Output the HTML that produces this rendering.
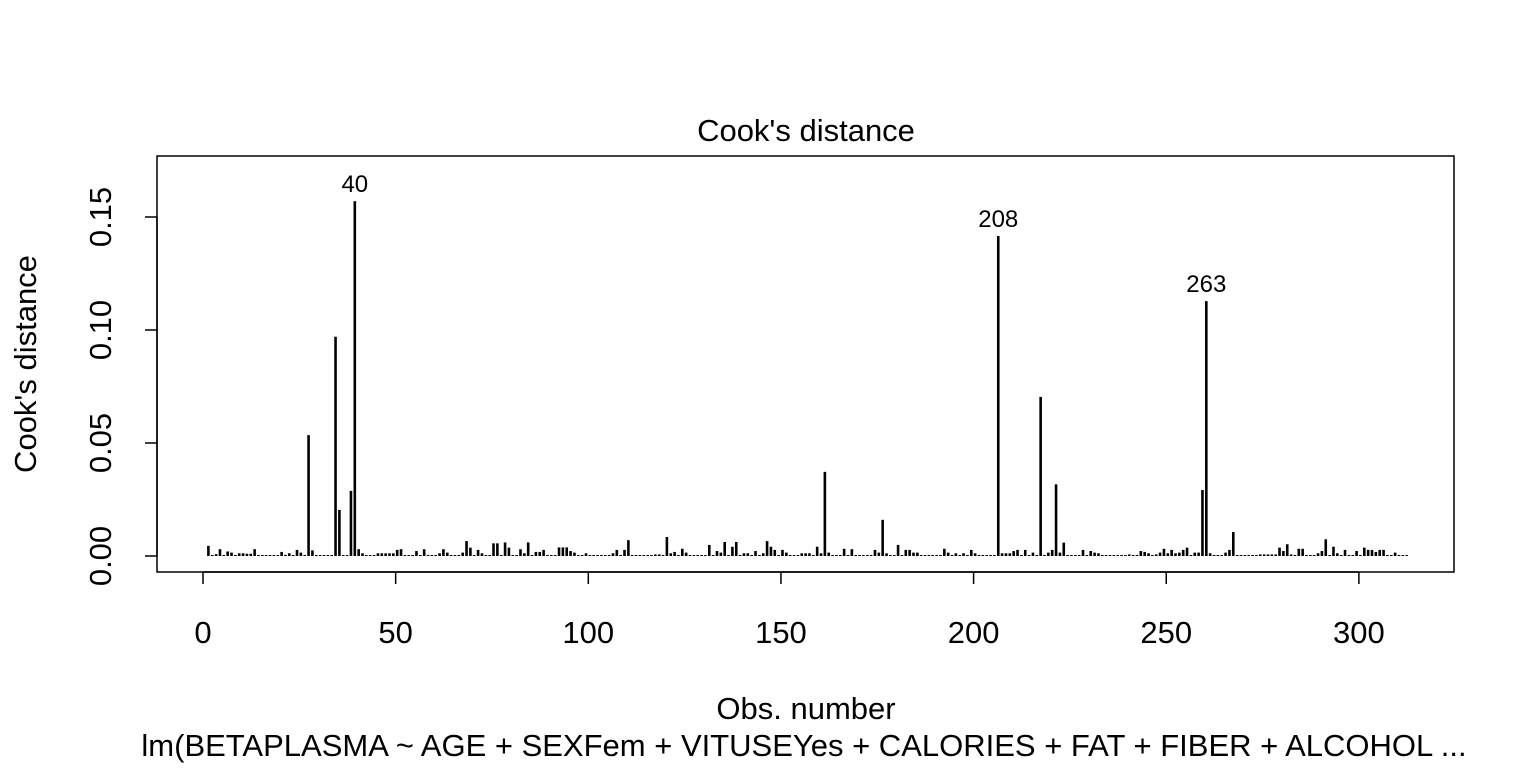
<!DOCTYPE html>
<html><head><meta charset="utf-8">
<style>
html,body{margin:0;padding:0;background:#fff;}
svg{display:block;font-family:"Liberation Sans",Arial,sans-serif;}
</style></head>
<body>
<svg id="chart" width="1536" height="768" viewBox="0 0 1536 768" xmlns="http://www.w3.org/2000/svg">
<rect x="0" y="0" width="1536" height="768" fill="#fff"/>
<text x="806" y="141" font-size="31" text-anchor="middle">Cook's distance</text>
<rect x="157" y="156" width="1297" height="416" fill="none" stroke="#000" stroke-width="1.5"/>
<g id="bars"></g>
<g id="labels"></g>
<g id="xaxis"></g>
<g id="yaxis"></g>
<text transform="translate(36,364) rotate(-90)" font-size="31" text-anchor="middle">Cook's distance</text>
<text x="806" y="719" font-size="31" text-anchor="middle">Obs. number</text>
<text x="804" y="756" font-size="31" text-anchor="middle">lm(BETAPLASMA ~ AGE + SEXFem + VITUSEYes + CALORIES + FAT + FIBER + ALCOHOL ...</text>
</svg>
<script>
const cookValues = [
.0045,.0003,.0008,.003,.0003,.002,.0015,.0003,.0012,.0012,
.001,.001,.003,.0002,.0002,.0002,.0002,.0002,.0002,.0018,
.0005,.0012,.0003,.0027,.0015,.0003,.0535,.0025,.0002,.0002,
.0002,.0002,.0002,.097,.0204,.0002,.0002,.0288,.157,.003,
.0012,.0003,.0003,.0003,.0012,.0012,.0012,.0012,.0012,.0027,
.003,.0003,.0003,.0003,.0022,.0003,.003,.0003,.0003,.0003,
.0012,.003,.0015,.0003,.0003,.0003,.0015,.0066,.0037,.0003,
.0027,.0012,.0003,.0003,.0056,.0056,.0003,.006,.0037,.0003,
.0003,.003,.0012,.006,.0003,.0018,.0018,.0027,.0003,.0003,
.0003,.0038,.0038,.0038,.0022,.0015,.0003,.0003,.0012,.0003,
.0003,.0003,.0003,.0003,.0003,.0012,.0027,.0003,.0027,.007,
.0003,.0003,.0003,.0003,.0003,.0003,.0007,.0007,.0003,.0084,
.0012,.0018,.0003,.0032,.0015,.0003,.0003,.0003,.0003,.0003,
.0049,.0003,.0022,.0015,.0062,.0003,.0041,.0062,.0003,.0012,
.0012,.0003,.0022,.0003,.0012,.0066,.0041,.0027,.0003,.0027,
.0015,.0003,.0003,.0003,.0012,.0012,.0012,.0003,.0041,.0012,
.0372,.0015,.0003,.0003,.0003,.0032,.0003,.003,.0003,.0003,
.0003,.0003,.0003,.0027,.0015,.016,.0012,.0003,.0003,.0049,
.0003,.0027,.0027,.0015,.0015,.0003,.0003,.0003,.0003,.0003,
.0003,.0032,.0015,.0003,.0012,.0003,.0012,.0003,.0027,.0012,
.0003,.0003,.0003,.0003,.0003,.1416,.0012,.0012,.0012,.0022,
.0027,.0003,.0027,.0003,.0015,.0003,.0704,.0003,.0015,.0027,
.0317,.0015,.0059,.0003,.0003,.0003,.0003,.0027,.0003,.0022,
.0015,.0012,.0003,.0003,.0003,.0003,.0003,.0003,.0003,.0007,
.0003,.0003,.0022,.0018,.0012,.0003,.0007,.0015,.0032,.0012,
.0027,.0012,.0015,.0027,.0037,.0003,.0015,.0015,.0292,.1128,
.0012,.0003,.0003,.0003,.0015,.0027,.0106,.0003,.0003,.0003,
.0003,.0003,.0003,.0007,.0007,.0007,.0007,.0007,.0037,.0022,
.0052,.0007,.0003,.0032,.0032,.0003,.0003,.0003,.0012,.0022,
.0074,.0003,.0041,.0012,.0003,.0027,.0003,.0003,.0022,.0003,
.0037,.0027,.0027,.0018,.0027,.0027,.0003,.0003,.0015,.0003,
.0003,.0003
];
const labelIndex = [39, 206, 260];
const labelText = ["40", "208", "263"];
const xTicks = [0, 50, 100, 150, 200, 250, 300];
const yTicks = [0, 0.05, 0.10, 0.15];
const yTickLabels = ["0.00", "0.05", "0.10", "0.15"];

const NS = "http://www.w3.org/2000/svg";
function xScale(i){ return 203 + i * 3.853; }
function yScale(v){ return 556 - v * 2260; }
function mk(tag, attrs, parent){
  const e = document.createElementNS(NS, tag);
  for (const k in attrs) e.setAttribute(k, attrs[k]);
  parent.appendChild(e);
  return e;
}
const gb = document.getElementById('bars');
cookValues.forEach((v, k) => {
  const i = k + 1;
  const x = xScale(i + 0.4);
  const l = mk('line', {x1:x, x2:x, y1:yScale(0), y2:Math.min(yScale(v), yScale(0)-1), stroke:'#000', 'stroke-width':2.6}, gb);
  
  
});
const gl = document.getElementById('labels');
labelIndex.forEach((idx, j) => {
  const t = mk('text', {x:xScale(idx + 0.4), y:yScale(cookValues[idx-1]) - 9, 'font-size':24, 'text-anchor':'middle'}, gl);
  t.textContent = labelText[j];
  
  
});
const gx = document.getElementById('xaxis');
mk('line', {x1:xScale(xTicks[0]), x2:xScale(xTicks[xTicks.length-1]), y1:572, y2:572, stroke:'#000', 'stroke-width':1.5}, gx);
xTicks.forEach(t => {
  const x = xScale(t);
  const tk = mk('line', {x1:x, x2:x, y1:572, y2:584, stroke:'#000', 'stroke-width':1.5}, gx);
  
  
  const tx = mk('text', {x:x, y:643, 'font-size':31, 'text-anchor':'middle'}, gx);
  tx.textContent = String(t);
  
  
});
const gy = document.getElementById('yaxis');
mk('line', {x1:157, x2:157, y1:yScale(yTicks[0]), y2:yScale(yTicks[yTicks.length-1]), stroke:'#000', 'stroke-width':1.5}, gy);
yTicks.forEach((t, j) => {
  const y = yScale(t);
  const tk = mk('line', {x1:145, x2:157, y1:y, y2:y, stroke:'#000', 'stroke-width':1.5}, gy);
  
  
  const tx = mk('text', {transform:'translate(111,' + y + ') rotate(-90)', 'font-size':31, 'text-anchor':'middle'}, gy);
  tx.textContent = yTickLabels[j];
  
  
});
</script>
</body></html>
